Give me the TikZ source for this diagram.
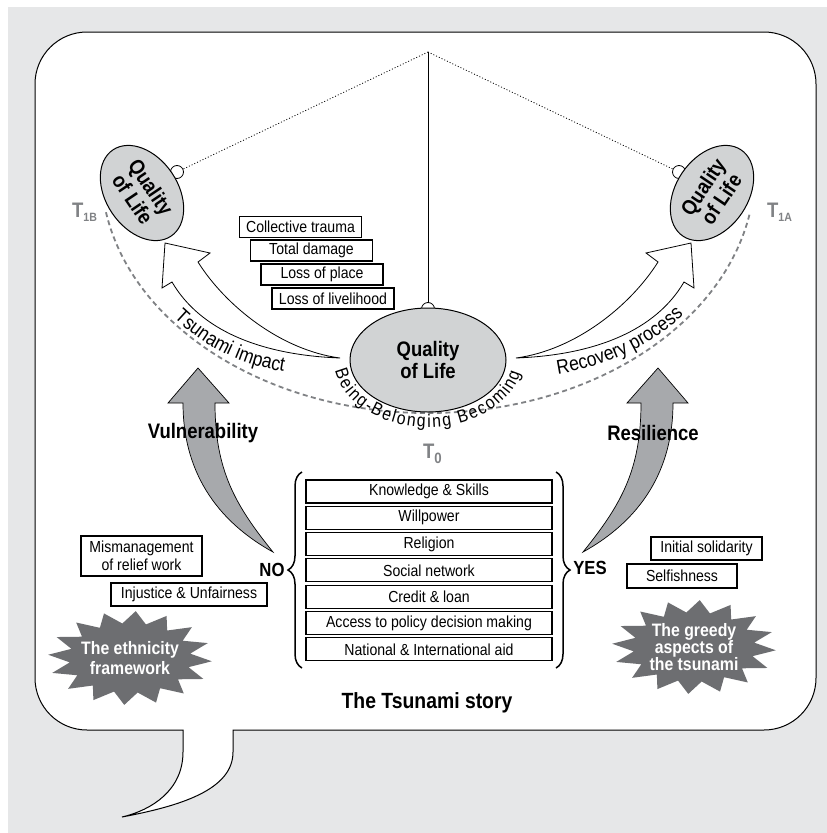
\documentclass[tikz,border=0pt]{standalone}
\usepackage{fontspec}
\setmainfont{Liberation Sans}[FakeStretch=0.88]
\usetikzlibrary{decorations.text,decorations.pathreplacing,shapes.geometric}
\definecolor{bggray}{HTML}{E6E7E8}
\definecolor{qolgray}{HTML}{D1D3D4}
\definecolor{arrgray}{HTML}{A7A9AC}
\definecolor{stargray}{HTML}{6D6E71}
\definecolor{tgray}{HTML}{808285}
\newcommand\myfs[2]{\fontsize{#1}{#2}\selectfont}
\tikzset{
 qol/.style={ellipse, draw, line width=1pt, fill=qolgray, align=center, inner sep=0pt, font=\myfs{21}{22}\bfseries},
 knob/.style={draw, fill=white, line width=0.8pt},
 wbox/.style={draw, line width=1.1pt, fill=white, inner sep=0pt, font=\myfs{16}{18}, align=center},
 topbox/.style={wbox, minimum width=122pt, minimum height=21pt},
 capbox/.style={wbox, minimum width=246pt, minimum height=23pt},
 whitearrow/.style={draw, fill=white, line width=0.8pt, line join=miter},
 grayarrow/.style={draw, fill=arrgray, line width=0.7pt},
 bigword/.style={font=\myfs{21}{22}\bfseries, inner sep=0pt},
 startext/.style={text=white, align=center, inner sep=0pt},
 tlab/.style={text=tgray, font=\myfs{21}{21}\bfseries, inner sep=0pt, anchor=base west},
 pathtext/.style={decorate, decoration={text along path, text align=center, text={|\myfs{20}{20}|#1}}},
}
\begin{document}
\begin{tikzpicture}[x=1pt,y=-1pt]
\useasboundingbox (0,0) rectangle (827,833);
\fill[white] (0,0) rectangle (827,833);
\fill[bggray] (8,7) rectangle (827,833);
% speech bubble
\draw[fill=white, line width=1pt] (183,730) -- (87,730) arc[start angle=90, end angle=180, radius=52]
  -- (35,84) arc[start angle=180, end angle=270, radius=52]
  -- (764,32) arc[start angle=270, end angle=360, radius=52]
  -- (816,678) arc[start angle=0, end angle=90, radius=52]
  -- (233,730) -- (233,752) .. controls (233,790) and (180,806) .. (122,817)
  .. controls (152,810) and (183,790) .. (183,752) -- cycle;
% dashed time arc
\draw[tgray, line width=1.8pt, dash pattern=on 5pt off 3.5pt, shift={(428,170)}]
  (170:327 and 243) arc[start angle=170, end angle=10, x radius=327, y radius=243];
% apex lines and knobs
\coordinate (top) at (428,52);
\coordinate (kL) at (177,172);
\coordinate (kR) at (679,172);
\coordinate (kC) at (428,309);
\draw[line width=0.8pt, dash pattern=on 1pt off 2pt] (top) -- (kL);
\draw[line width=0.8pt, dash pattern=on 1pt off 2pt] (top) -- (kR);
\draw[line width=0.8pt] (top) -- (kC);
\draw[knob] (kL) circle[radius=6.5];
\draw[knob] (kR) circle[radius=6.5];
\draw[knob] (kC) circle[radius=6.5];
% quality of life ellipses
\node[qol, minimum width=156pt, minimum height=104pt] (q0) at (428,360) {Quality\\of Life};
\node[qol, rotate=-56, minimum width=104pt, minimum height=72pt] (qL) at (142,193) {Quality\\of Life};
\node[qol, rotate=56, minimum width=104pt, minimum height=72pt] (qR) at (712,193) {Quality\\of Life};
% T labels
\node[tlab] (t1b) at (72,217) {T\raisebox{-4pt}{\myfs{12}{12}1B}};
\node[tlab] (t1a) at (767,217) {T\raisebox{-4pt}{\myfs{12}{12}1A}};
\node[tlab] (t0) at (423,458) {T\raisebox{-5pt}{\myfs{15}{15}0}};
% white curved arrows
\draw[whitearrow] (340,358) .. controls (260,355) and (200,330) .. (172,282) -- (162,288) -- (165,243)
  -- (210,253) -- (198,262) .. controls (225,305) and (280,350) .. cycle;
\draw[whitearrow] (516,358) .. controls (596,355) and (656,330) .. (684,282) -- (694,288) -- (691,243)
  -- (646,253) -- (658,262) .. controls (631,305) and (576,350) .. cycle;
% curved texts
\path[pathtext={Tsunami impact}] (168,312) .. controls (200,345) and (240,366) .. (292,373);
\path[pathtext={Recovery process}] (552,375) .. controls (605,368) and (652,346) .. (688,311);
\path[decorate, decoration={text along path, text align={fit to path}, text={|\myfs{18}{18}|Being-Belonging Becoming}}, shift={(428,360)}]
  (171:94 and 67) arc[start angle=171, end angle=11, x radius=94, y radius=67];
% gray arrows
\draw[grayarrow] (273,552) .. controls (215,520) and (183,470) .. (183,403) -- (168,403) -- (198,368)
  -- (229,403) -- (215,403) .. controls (215,470) and (235,505) .. cycle;
\draw[grayarrow] (583,552) .. controls (641,520) and (673,470) .. (673,403) -- (688,403) -- (658,368)
  -- (627,403) -- (641,403) .. controls (641,470) and (621,505) .. cycle;
\node[bigword] (vul) at (203,433) {Vulnerability};
\node[bigword] (res) at (653,433) {Resilience};
% top loss boxes
\node[topbox] (b1) at (300.5,227) {Collective trauma};
\node[topbox] (b2) at (311.5,250.5) {Total damage};
\node[topbox] (b3) at (322,274.5) {Loss of place};
\node[topbox] (b4) at (333,298.5) {Loss of livelihood};
% capacity stack
\node[capbox] (c1) at (429,491.5) {Knowledge \& Skills};
\node[capbox] (c2) at (429,517.8) {Willpower};
\node[capbox] (c3) at (429,544.1) {Religion};
\node[capbox] (c4) at (429,570.4) {Social network};
\node[capbox] (c5) at (429,596.7) {Credit \& loan};
\node[capbox] (c6) at (429,623) {Access to policy decision making};
\node[capbox] (c7) at (429,649.3) {National \& International aid};
\draw[decorate, decoration={brace, amplitude=14pt}, line width=1.5pt] (302,668) -- (302,472);
\draw[decorate, decoration={brace, amplitude=14pt}, line width=1.5pt] (556,472) -- (556,668);
\node[font=\myfs{19}{19}\bfseries, inner sep=0pt] (no) at (272,570) {NO};
\node[font=\myfs{19}{19}\bfseries, inner sep=0pt] (yes) at (590,568) {YES};
% side boxes
\node[wbox, minimum width=121pt, minimum height=40pt] (mis) at (141.5,556) {Mismanagement\\of relief work};
\node[wbox, minimum width=156pt, minimum height=23pt] (inj) at (189,594.5) {Injustice \& Unfairness};
\node[wbox, minimum width=111pt, minimum height=23pt] (ini) at (706.5,548.5) {Initial solidarity};
\node[wbox, minimum width=110pt, minimum height=24pt] (sel) at (682,576) {Selfishness};
% starbursts
\fill[stargray] plot[samples at={0,...,31}, variable=\i]
  ({130+82*(0.87+0.13*cos(180*\i))*cos(11.25*\i+4)}, {658+47*(0.87+0.13*cos(180*\i))*sin(11.25*\i+4)}) -- cycle;
\fill[stargray] plot[samples at={0,...,31}, variable=\i]
  ({694+82*(0.87+0.13*cos(180*\i))*cos(11.25*\i+4)}, {647+47*(0.87+0.13*cos(180*\i))*sin(11.25*\i+4)}) -- cycle;
\node[startext, font=\myfs{18}{20}\bfseries] (eth) at (130,658) {The ethnicity\\framework};
\node[startext, font=\myfs{18}{17}\bfseries] (gre) at (694,647) {The greedy\\aspects of\\the tsunami};
% title
\node[font=\myfs{22}{22}\bfseries, inner sep=0pt] (title) at (427,703) {The Tsunami story};
\end{tikzpicture}
\end{document}
